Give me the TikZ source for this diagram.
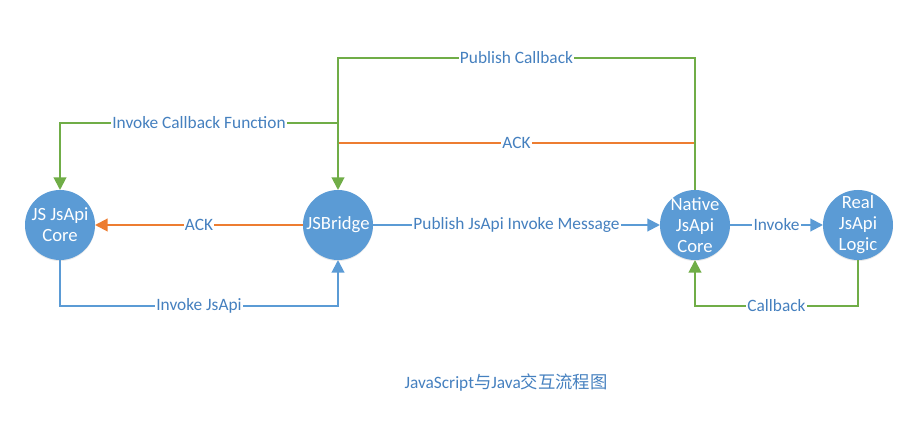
\documentclass[tikz,border=0pt]{standalone}
\usepackage{fontspec}
\setmainfont{Carlito}
\newfontfamily\cjkfont{Noto Sans CJK SC}
\usetikzlibrary{arrows.meta,positioning,shadows}

\definecolor{nodeblue}{HTML}{5B9BD5}
\definecolor{linkgreen}{HTML}{70AD47}
\definecolor{linkorange}{HTML}{ED7D31}
\definecolor{labelblue}{HTML}{4580BF}

\tikzset{
  bubble/.style={circle, fill=nodeblue, minimum size=52.5pt, inner sep=-8pt, outer sep=0pt,
    text=white, align=center, font=\fontsize{14}{15.75}\selectfont,
    drop shadow={opacity=0.18, shadow xshift=0pt, shadow yshift=-0.8pt}},
  link/.style={line width=1.5pt, -{Triangle[length=9.5pt,width=9.5pt]}},
  plain/.style={line width=1.5pt},
  tag/.style={fill=white, text=labelblue, inner sep=1pt, font=\fontsize{13}{15}\selectfont},
}

\begin{document}
\begin{tikzpicture}[x=0.75pt, y=-0.75pt]
  \useasboundingbox (0,0) rectangle (914,441);

  \node[bubble] (jscore) at (60,225) {JS JsApi\\Core};
  \node[bubble, right=156pt of jscore] (bridge) {JSBridge};
  \node[bubble, right=215.25pt of bridge] (native) {Native\\JsApi\\Core};
  \node[bubble, right=69.75pt of native] (real) {Real\\JsApi\\Logic};

  % rows of the elbow connectors
  \coordinate (toprow) at (0,58);
  \coordinate (cbrow) at (0,123);
  \coordinate (ackrow) at (0,143);
  \coordinate (botrow) at (0,306);

  \draw[plain, linkorange] (native.north |- ackrow) -- node[tag] {ACK} (bridge.north |- ackrow);
  \draw[link, linkgreen] (native.north) -- (native.north |- toprow)
    -- node[tag] {Publish Callback} (bridge.north |- toprow) -- (bridge.north);
  \draw[link, linkgreen] (bridge.north |- cbrow)
    -- node[tag] {Invoke Callback Function} (jscore.north |- cbrow) -- (jscore.north);

  \draw[link, linkorange] (bridge) -- node[tag] {ACK} (jscore);
  \draw[link, nodeblue] (jscore.south) -- (jscore.south |- botrow)
    -- node[tag] {Invoke JsApi} (bridge.south |- botrow) -- (bridge.south);

  \draw[link, nodeblue] (bridge) -- node[tag] {Publish JsApi Invoke Message} (native);
  \draw[link, nodeblue] (native) -- node[tag] {Invoke} (real);
  \draw[link, linkgreen] (real.south) -- (real.south |- botrow)
    -- node[tag] {Callback} (native.south |- botrow) -- (native.south);

  \node[text=labelblue, font=\fontsize{13}{15}\selectfont] (caption) at (506,383)
    {JavaScript{\cjkfont 与}Java{\cjkfont 交互流程图}};
\end{tikzpicture}
\end{document}
